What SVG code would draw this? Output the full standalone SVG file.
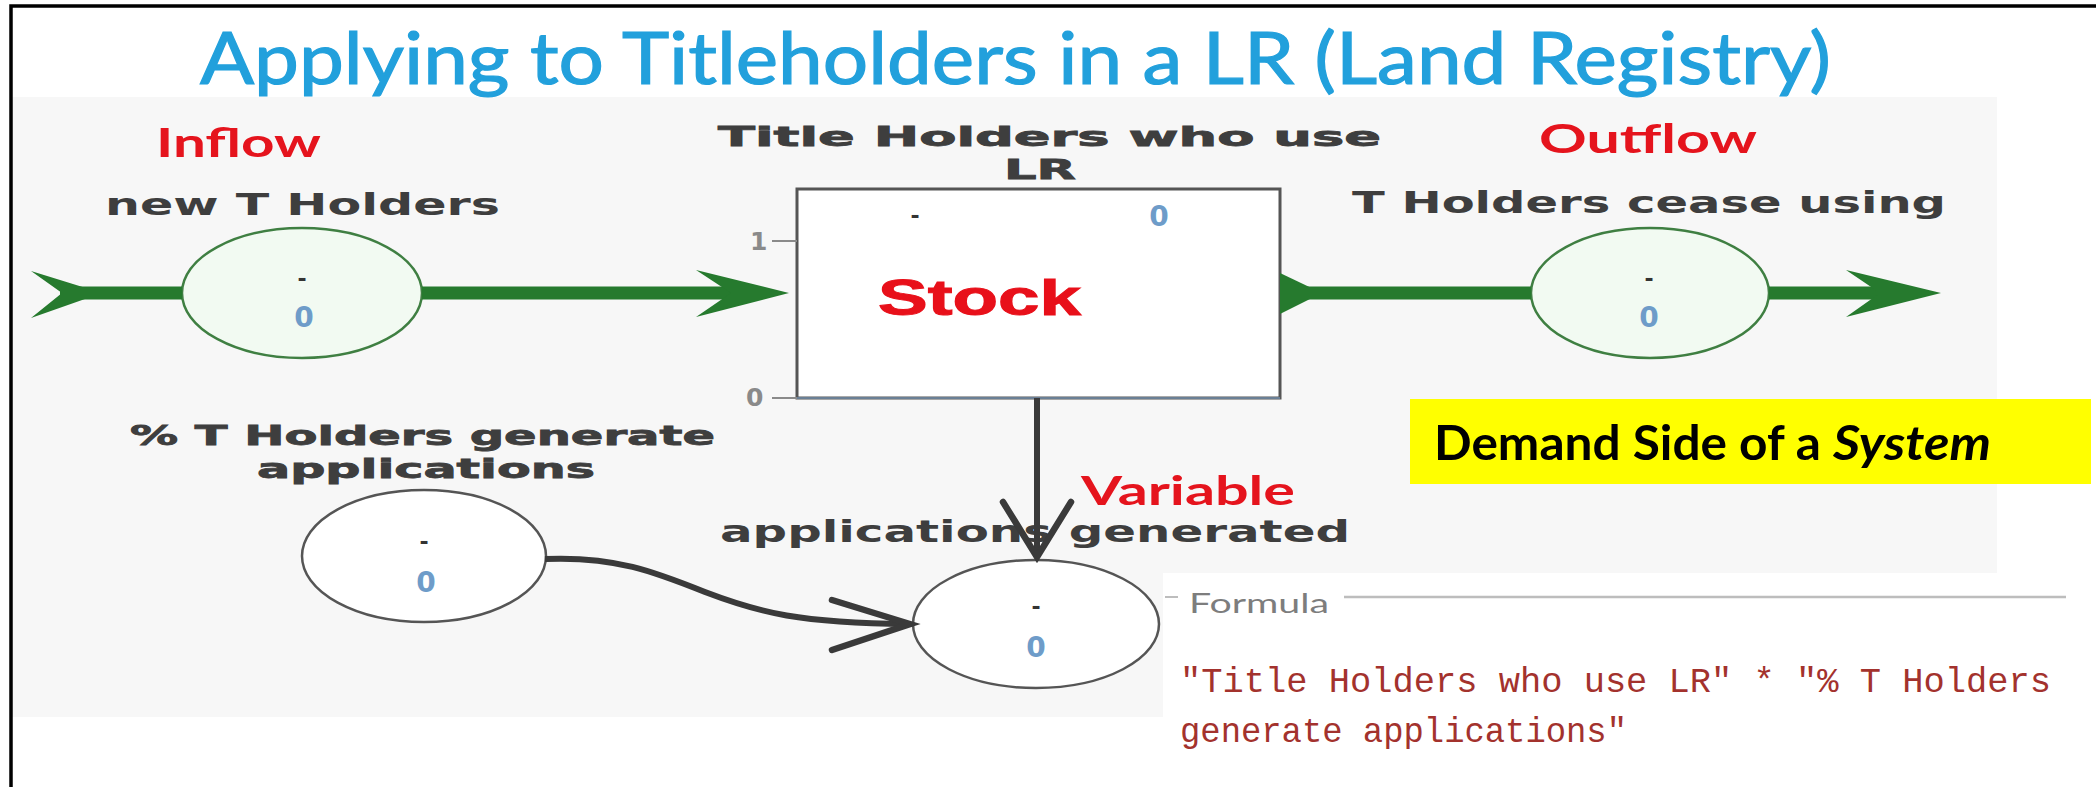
<svg xmlns="http://www.w3.org/2000/svg" width="2096" height="787" viewBox="0 0 2096 787">
  <defs>
    <style>
      .title { font-family: Lato, "Liberation Sans", sans-serif; font-size: 71px; fill: #22a0dc; stroke: #22a0dc; stroke-width: 1.2; }
      .red { font-family: Lato, "Liberation Sans", sans-serif; font-weight: bold; font-size: 41px; fill: #e5141d; }
      .lbl { font-family: "DejaVu Sans", Verdana, sans-serif; font-weight: bold; font-size: 31px; fill: #3e3e3e; }
      .lbl2 { font-family: "DejaVu Sans", Verdana, sans-serif; font-weight: bold; font-size: 27px; fill: #3e3e3e; stroke: #3e3e3e; stroke-width: 0.8; }
      .val { font-family: "DejaVu Sans", Verdana, sans-serif; font-weight: bold; font-size: 28px; fill: #6e9cc9; text-anchor: middle; }
      .dash { font-family: "DejaVu Sans", Verdana, sans-serif; font-weight: bold; font-size: 22px; fill: #333; text-anchor: middle; }
      .axis { font-family: "DejaVu Sans", Verdana, sans-serif; font-weight: bold; font-size: 25px; fill: #8a8a8a; }
      .flowc { fill: #f2faf2; stroke: #3f7f42; stroke-width: 2.5; }
      .auxc { fill: #ffffff; stroke: #555555; stroke-width: 2.5; }
      .pipe { stroke: #267a2e; stroke-width: 13; fill: none; }
      .head { fill: #267a2e; }
      .link { stroke: #3a3a3a; stroke-width: 6; fill: none; }
      .vee { stroke: #3a3a3a; stroke-width: 6.5; fill: none; stroke-linecap: round; stroke-linejoin: miter; }
      .code { font-family: "Liberation Mono", "DejaVu Sans Mono", monospace; font-size: 35px; fill: #a3322d; }
      .note { font-family: Lato, "Liberation Sans", sans-serif; font-weight: bold; font-size: 47px; fill: #000; }
    </style>
  </defs>

  <!-- page -->
  <rect x="0" y="0" width="2096" height="787" fill="#ffffff"/>
  <path d="M12,97 H1997 V573 H1163 V717 H12 Z" fill="#f7f7f7"/>
  <path d="M11,787 V6 H2096" fill="none" stroke="#000" stroke-width="3.5"/>

  <text class="title" x="200" y="84" textLength="1631" lengthAdjust="spacingAndGlyphs">Applying to Titleholders in a LR (Land Registry)</text>

  <!-- inflow -->
  <g id="inflow">
    <text class="red" x="156" y="157" textLength="165" lengthAdjust="spacingAndGlyphs">Inflow</text>
    <text class="lbl" x="105" y="215" textLength="395" lengthAdjust="spacingAndGlyphs">new T Holders</text>
    <ellipse class="flowc" cx="302" cy="293" rx="120" ry="65"/>
    <text class="dash" x="302" y="286">-</text>
    <text class="val" x="304" y="327">0</text>
  </g>

  <!-- stock -->
  <g id="stock">
    <text class="lbl2" x="718" y="146" textLength="663" lengthAdjust="spacingAndGlyphs">Title Holders who use</text>
    <text class="lbl2" x="1004" y="179" textLength="72" lengthAdjust="spacingAndGlyphs">LR</text>
    <rect x="797" y="189" width="483" height="209" fill="#ffffff" stroke="#555555" stroke-width="3"/>
    <line x1="797" y1="398" x2="1280" y2="398" stroke="#6a7f95" stroke-width="2"/>
    <line x1="772" y1="241" x2="797" y2="241" stroke="#8a8a8a" stroke-width="2"/>
    <line x1="772" y1="398" x2="797" y2="398" stroke="#8a8a8a" stroke-width="2"/>
    <text class="axis" x="750" y="250">1</text>
    <text class="axis" x="746" y="406">0</text>
    <text class="dash" x="915" y="223">-</text>
    <text class="val" x="1159" y="226">0</text>
    <text x="878" y="315" font-family="'Liberation Sans', Arial, sans-serif" font-weight="bold" font-size="50" fill="#e8101a" stroke="#e8101a" stroke-width="1" textLength="203" lengthAdjust="spacingAndGlyphs">Stock</text>
  </g>

  <!-- outflow -->
  <g id="outflow">
    <text class="red" x="1539" y="153" textLength="218" lengthAdjust="spacingAndGlyphs">Outflow</text>
    <text class="lbl" x="1352" y="213" textLength="594" lengthAdjust="spacingAndGlyphs">T Holders cease using</text>
    <ellipse class="flowc" cx="1650" cy="293" rx="119" ry="65"/>
    <text class="dash" x="1649" y="286">-</text>
    <text class="val" x="1649" y="327">0</text>
  </g>

  <!-- fraction of holders -->
  <g id="pct-holders">
    <text class="lbl2" x="130" y="445" textLength="585" lengthAdjust="spacingAndGlyphs">% T Holders generate</text>
    <text class="lbl2" x="257" y="478" textLength="338" lengthAdjust="spacingAndGlyphs">applications</text>
    <ellipse class="auxc" cx="424" cy="556" rx="122" ry="66"/>
    <text class="dash" x="424" y="549">-</text>
    <text class="val" x="426" y="592">0</text>
  </g>

  <!-- applications generated -->
  <g id="apps-generated">
    <text class="red" x="1081" y="505" textLength="214" lengthAdjust="spacingAndGlyphs">Variable</text>
    <text class="lbl" x="720" y="542" textLength="630" lengthAdjust="spacingAndGlyphs">applications generated</text>
    <ellipse class="auxc" cx="1036" cy="624" rx="123" ry="64"/>
    <text class="dash" x="1036" y="614">-</text>
    <text class="val" x="1036" y="657">0</text>
  </g>

  <!-- formula panel -->
  <g id="formula">
    <line x1="1165" y1="597" x2="1178" y2="597" stroke="#bdbdbd" stroke-width="2"/>
    <text x="1189" y="613" font-family="Lato, 'Liberation Sans', sans-serif" font-size="27" fill="#7d7d7d" textLength="140" lengthAdjust="spacingAndGlyphs">Formula</text>
    <line x1="1344" y1="597" x2="2066" y2="597" stroke="#bdbdbd" stroke-width="2.5"/>
    <text class="code" x="1180" y="692" textLength="871" lengthAdjust="spacingAndGlyphs">"Title Holders who use LR" * "% T Holders</text>
    <text class="code" x="1180" y="742" textLength="447" lengthAdjust="spacingAndGlyphs">generate applications"</text>
  </g>

  <!-- caption -->
  <g id="caption">
    <rect x="1410" y="399" width="681" height="85" fill="#ffff00"/>
    <text class="note" x="1434" y="460" textLength="387" lengthAdjust="spacingAndGlyphs">Demand Side of a</text>
    <text class="note" x="1833" y="460" font-style="italic" textLength="158" lengthAdjust="spacingAndGlyphs">System</text>
  </g>

  <!-- connectors -->
  <g id="connectors">
    <!-- inflow pipe -->
    <polygon class="head" points="31,271 102,293 31,318 62,293"/>
    <line class="pipe" x1="60" y1="293" x2="182" y2="293"/>
    <line class="pipe" x1="422" y1="293" x2="740" y2="293"/>
    <polygon class="head" points="696,270 789,293 696,317 731,293"/>
    <!-- outflow pipe -->
    <polygon class="head" points="1280,273 1322,293 1280,314"/>
    <line class="pipe" x1="1280" y1="293" x2="1531" y2="293"/>
    <line class="pipe" x1="1769" y1="293" x2="1880" y2="293"/>
    <polygon class="head" points="1846,270 1941,293 1846,317 1880,293"/>
    <!-- stock to applications generated -->
    <line class="link" x1="1037" y1="398" x2="1037" y2="555"/>
    <path class="vee" d="M1003,502 L1037,557 L1071,502"/>
    <!-- fraction to applications generated -->
    <path class="link" d="M545,559 C615,556 655,572 705,592 C760,613 800,623 908,624"/>
    <path class="vee" d="M832,600 L910,624 L832,650"/>
  </g>
</svg>
